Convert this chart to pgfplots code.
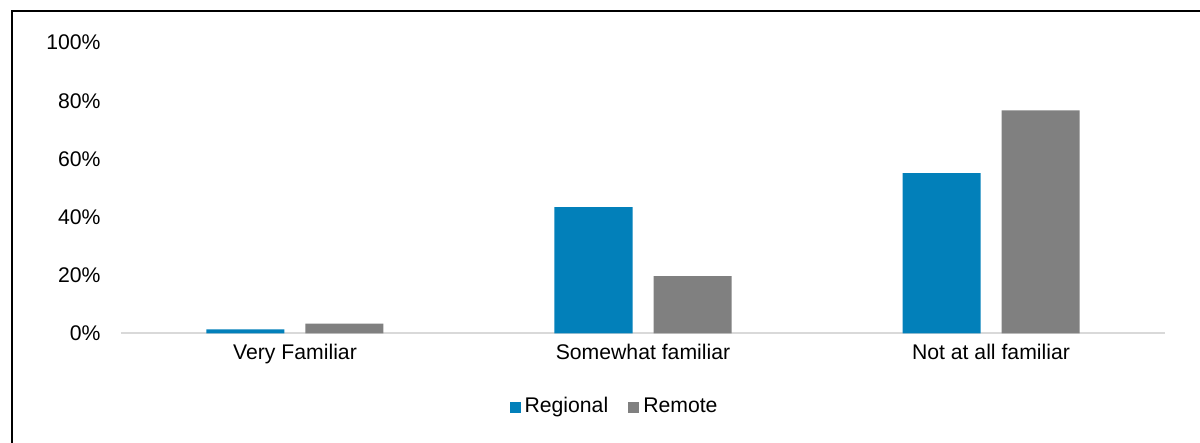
\documentclass[border=0pt]{standalone}
\usepackage{fontspec}
\setmainfont{Liberation Sans}
\usepackage{pgfplots}
\pgfplotsset{compat=1.18}
\definecolor{regblue}{RGB}{2,128,186}
\definecolor{remgray}{RGB}{128,128,128}
\definecolor{axisgray}{RGB}{217,217,217}
\newcommand{\chartfont}{\fontsize{10.6}{12.5}\selectfont}

\begin{document}
\begin{tikzpicture}
\useasboundingbox (-60.5pt,-54.8pt) rectangle (539.5pt,166.7pt);
% outer frame (left and top edges)
\draw[line width=1pt] (-54.5pt,-54.8pt) -- (-54.5pt,161.2pt) -- (539.5pt,161.2pt);
\begin{axis}[
  at={(0,0)}, anchor=south west,
  scale only axis, width=522pt, height=145.4pt,
  ybar=10.5pt, bar width=39pt,
  xmin=-0.5, xmax=2.5, ymin=0, ymax=100,
  xtick={0,1,2},
  xticklabels={Very Familiar,Somewhat familiar,Not at all familiar},
  ytick={0,20,40,60,80,100},
  yticklabel={\pgfmathprintnumber{\tick}\%},
  /pgf/number format/assume math mode=true,
  axis x line*=bottom, axis y line*=left,
  x axis line style={draw=axisgray, line width=1pt},
  y axis line style={draw=none},
  major tick length=0pt,
  major tick style={draw=none},
  tick label style={font=\chartfont, text=black},
  yticklabel style={inner sep=0pt, anchor=east, xshift=-10pt},
  xticklabel style={inner sep=0pt, anchor=north, yshift=-5pt},
  legend style={at={(0.4737,-0.2538)}, anchor=center, draw=none,
    font=\chartfont, legend columns=-1, inner sep=0pt,
    nodes={text height=0.75em, text depth=0.22em},
    /tikz/every even column/.append style={column sep=8pt}},
  legend image code/.code={\fill (0pt,-2.75pt) rectangle (5.5pt,2.75pt);},
  clip=false,
]
\addplot[fill=regblue, draw=none] coordinates {(0,1.4) (1,43.4) (2,55.1)};
\addplot[fill=remgray, draw=none] coordinates {(0,3.4) (1,19.7) (2,76.7)};
\legend{Regional,Remote}
\end{axis}
\end{tikzpicture}
\end{document}
